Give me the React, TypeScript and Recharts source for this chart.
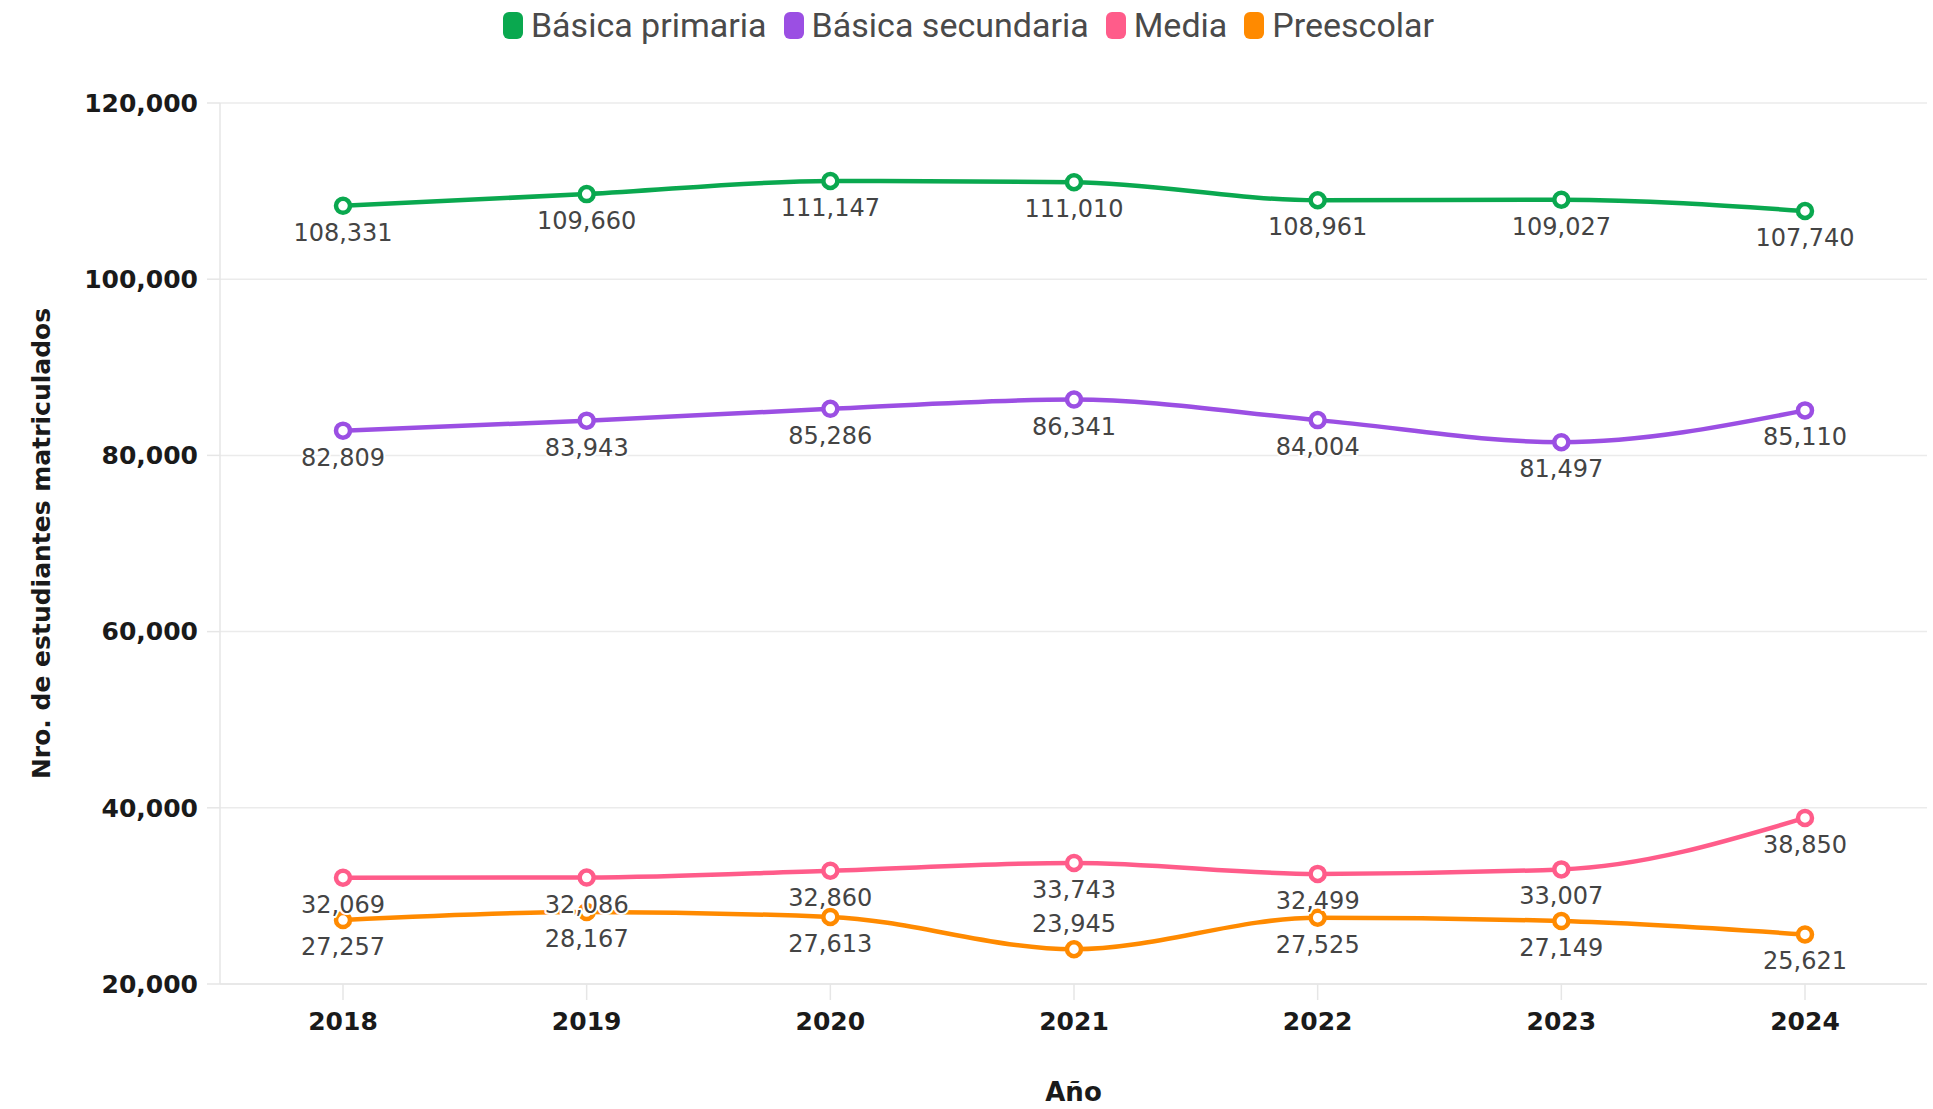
import React from "react";
import { LineChart, Line, XAxis, YAxis, CartesianGrid, Legend, LabelList } from "recharts";

const YEARS = ["2018", "2019", "2020", "2021", "2022", "2023", "2024"];
const BASICA_PRIMARIA = [108331, 109660, 111147, 111010, 108961, 109027, 107740];
const BASICA_SECUNDARIA = [82809, 83943, 85286, 86341, 84004, 81497, 85110];
const MEDIA = [32069, 32086, 32860, 33743, 32499, 33007, 38850];
const PREESCOLAR = [27257, 28167, 27613, 23945, 27525, 27149, 25621];
const Y_TICKS = [20000, 40000, 60000, 80000, 100000, 120000];

// legend order
const SERIES = [
  { key: "primaria", name: "Básica primaria", color: "#0aa84f" },
  { key: "secundaria", name: "Básica secundaria", color: "#9b4fe3" },
  { key: "media", name: "Media", color: "#ff5c8a" },
  { key: "preescolar", name: "Preescolar", color: "#ff8a00" },
];

// draw order: orange first so the pink labels sit on top of it
const DRAW_ORDER = ["preescolar", "primaria", "secundaria", "media"];

const data = YEARS.map((year, i) => ({
  year,
  primaria: BASICA_PRIMARIA[i],
  secundaria: BASICA_SECUNDARIA[i],
  media: MEDIA[i],
  preescolar: PREESCOLAR[i],
}));

const W = 1933;
const H = 1109;
const PLOT_BOTTOM = 984;
const NUM_FONT = "'DejaVu Sans', sans-serif";

const fmt = (v: number) => v.toLocaleString("en-US");

function PointLabel(props: any) {
  const { x, y, value } = props;
  if (x == null || y == null) return null;
  // flip above the point when it would run into the x axis
  const below = y + 44 < PLOT_BOTTOM;
  return (
    <text
      x={x}
      y={below ? y + 35 : y - 17}
      textAnchor="middle"
      fontFamily={NUM_FONT}
      fontSize={24}
      fill="#444"
      stroke="#fff"
      strokeWidth={4}
      strokeLinejoin="round"
      style={{ paintOrder: "stroke" }}
    >
      {fmt(value)}
    </text>
  );
}

function LegendContent() {
  return (
    <div
      style={{
        display: "flex",
        justifyContent: "center",
        alignItems: "center",
        height: 50,
        gap: 17,
        paddingLeft: 4,
        fontFamily: "Roboto, sans-serif",
        fontSize: 34,
        color: "#4a4a4a",
      }}
    >
      {SERIES.map((s) => (
        <div key={s.key} style={{ display: "flex", alignItems: "center", gap: 8 }}>
          <span
            style={{
              display: "inline-block",
              width: 20,
              height: 27,
              borderRadius: 6,
              background: s.color,
            }}
          />
          <span>{s.name}</span>
        </div>
      ))}
    </div>
  );
}

function YLabel(props: any) {
  const vb = props.viewBox || {};
  const cy = (vb.y ?? 103) + (vb.height ?? 881) / 2;
  const cx = 41;
  return (
    <text
      x={cx}
      y={cy}
      transform={`rotate(-90, ${cx}, ${cy})`}
      textAnchor="middle"
      dominantBaseline="central"
      fontFamily={NUM_FONT}
      fontWeight="bold"
      fontSize={25}
      fill="#1a1a1a"
    >
      Nro. de estudiantes matriculados
    </text>
  );
}

export default function App() {
  return (
    <div style={{ width: W, height: H }}>
      <style>{`body{margin:0}`}</style>
      <LineChart width={W} height={H} data={data} margin={{ top: 53, right: 6, left: 0, bottom: 0 }}>
        <CartesianGrid vertical={false} stroke="#ebebeb" strokeWidth={1.5} />
        <XAxis
          dataKey="year"
          padding={{ left: 123, right: 122 }}
          height={125}
          tickSize={16}
          tickMargin={12}
          axisLine={{ stroke: "#e6e6e6", strokeWidth: 1.5 }}
          tickLine={{ stroke: "#e6e6e6", strokeWidth: 1.5 }}
          tick={{ fontFamily: NUM_FONT, fontWeight: "bold", fontSize: 25, fill: "#1a1a1a" }}
          label={{
            value: "Año",
            position: "insideBottom",
            offset: 8,
            fontFamily: NUM_FONT,
            fontWeight: "bold",
            fontSize: 26,
            fill: "#1a1a1a",
          }}
        />
        <YAxis
          width={220}
          domain={[20000, 120000]}
          ticks={Y_TICKS}
          tickFormatter={fmt}
          tickSize={13}
          tickMargin={9}
          axisLine={{ stroke: "#e6e6e6", strokeWidth: 1.5 }}
          tickLine={{ stroke: "#e6e6e6", strokeWidth: 1.5 }}
          tick={{ fontFamily: NUM_FONT, fontWeight: "bold", fontSize: 25, fill: "#1a1a1a" }}
          label={{ content: (p: any) => <YLabel {...p} /> }}
        />
        <Legend verticalAlign="top" align="center" content={<LegendContent />} wrapperStyle={{ top: 0, left: 0, width: W }} />
        {DRAW_ORDER.map((k) => {
          const s = SERIES.find((x) => x.key === k)!;
          return (
            <Line
              key={s.key}
              dataKey={s.key}
              name={s.name}
              type="monotone"
              stroke={s.color}
              strokeWidth={4.5}
              dot={{ r: 7, fill: "#fff", stroke: s.color, strokeWidth: 4.5 }}
              activeDot={false}
              isAnimationActive={false}
            >
              <LabelList dataKey={s.key} content={<PointLabel />} />
            </Line>
          );
        })}
      </LineChart>
    </div>
  );
}
